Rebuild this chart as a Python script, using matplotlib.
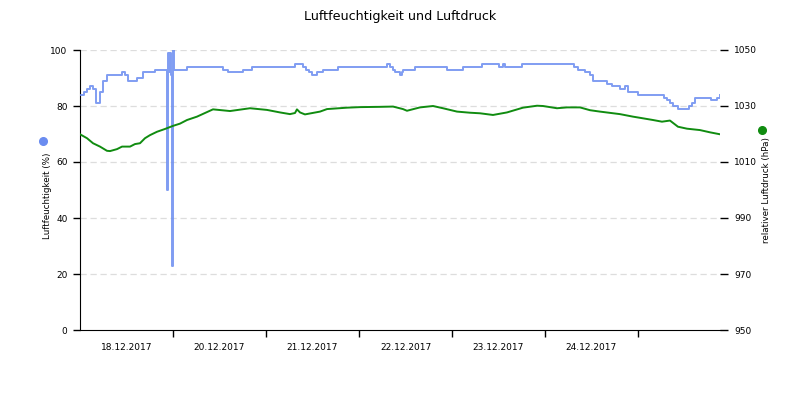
import numpy as np
import matplotlib.pyplot as plt

# time in days since start of record
hum_t = [0.000, 0.043, 0.075, 0.108, 0.140, 0.172, 0.215, 0.247, 0.290, 0.452,
         0.484, 0.516, 0.613, 0.677, 0.806, 0.935, 0.946, 0.962, 0.973, 0.982,
         0.991, 1.001, 1.011, 1.151, 1.538, 1.591, 1.753, 1.849, 2.312, 2.398,
         2.430, 2.462, 2.495, 2.548, 2.613, 2.774, 3.301, 3.333, 3.366, 3.387,
         3.441, 3.462, 3.473, 3.602, 3.946, 4.118, 4.323, 4.505, 4.548, 4.570,
         4.753, 5.312, 5.355, 5.430, 5.484, 5.516, 5.667, 5.720, 5.806, 5.860,
         5.892, 6.000, 6.280, 6.312, 6.344, 6.376, 6.430, 6.548, 6.581, 6.613,
         6.785, 6.849, 6.882]
hum_v = [84, 85, 86, 87, 86, 81, 85, 89, 91, 92,
         91, 89, 90, 92, 93, 50, 99, 92, 99, 91,
         23, 100, 93, 94, 93, 92, 93, 94, 95, 94,
         93, 92, 91, 92, 93, 94, 95, 94, 93, 92,
         91, 92, 93, 94, 93, 94, 95, 94, 95, 94,
         95, 94, 93, 92, 91, 89, 88, 87, 86, 87,
         85, 84, 83, 82, 81, 80, 79, 80, 81, 83,
         82, 83, 84]

pres_t = [0.000, 0.075, 0.140, 0.215, 0.290, 0.323, 0.398, 0.452, 0.538, 0.591,
          0.645, 0.699, 0.753, 0.828, 0.914, 1.000, 1.075, 1.151, 1.258, 1.430,
          1.613, 1.828, 2.011, 2.151, 2.258, 2.312, 2.333, 2.366, 2.419, 2.581,
          2.656, 2.871, 3.011, 3.226, 3.366, 3.473, 3.516, 3.656, 3.796, 3.903,
          4.054, 4.194, 4.301, 4.441, 4.591, 4.763, 4.914, 4.978, 5.129, 5.237,
          5.376, 5.484, 5.591, 5.806, 5.946, 6.054, 6.161, 6.258, 6.344, 6.430,
          6.527, 6.667, 6.774, 6.882]
pres_v = [1019.9, 1018.5, 1016.7, 1015.5, 1014.0, 1013.9, 1014.6, 1015.5, 1015.5, 1016.4,
          1016.7, 1018.5, 1019.6, 1020.8, 1021.8, 1022.9, 1023.7, 1025.0, 1026.2, 1028.8,
          1028.2, 1029.2, 1028.6, 1027.7, 1027.1, 1027.5, 1028.8, 1027.7, 1027.0, 1028.0,
          1028.9, 1029.4, 1029.6, 1029.7, 1029.8, 1028.9, 1028.3, 1029.5, 1030.0, 1029.2,
          1028.0, 1027.6, 1027.4, 1026.8, 1027.7, 1029.4, 1030.1, 1030.0, 1029.2, 1029.5,
          1029.5, 1028.5, 1028.0, 1027.1, 1026.2, 1025.6, 1025.0, 1024.4, 1024.8, 1022.6,
          1021.9, 1021.4, 1020.6, 1019.9]

day_labels = ['18.12.2017', '20.12.2017', '21.12.2017', '22.12.2017',
              '23.12.2017', '24.12.2017']

blue = '#6a8cf0'
green = '#108c10'

plt.rcParams['font.family'] = 'DejaVu Sans'
fig = plt.figure(figsize=(8, 4), dpi=100)
ax = fig.add_axes([0.1, 0.175, 0.8, 0.7])
ax2 = ax.twinx()

ax.plot(hum_t, hum_v, color=blue, lw=1.4, alpha=0.85, drawstyle='steps-post', zorder=3)
ax2.plot(pres_t, pres_v, color=green, lw=1.4, zorder=3)

ax.set_xlim(0, 6.882)
ax.set_ylim(0, 100)
ax2.set_ylim(950, 1050)
ax.set_yticks(range(0, 101, 20))
ax2.set_yticks(range(950, 1051, 20))

ax.set_xticks(range(1, 7))
ax.set_xticklabels([])
ax.set_xticks([k + 0.5 for k in range(6)], minor=True)
ax.set_xticklabels(day_labels, minor=True)
ax.tick_params(axis='x', which='major', length=5, width=1, direction='out')
ax.tick_params(axis='x', which='minor', length=0, pad=9, labelsize=6.5)
ax.tick_params(axis='y', length=5, width=1, pad=4, labelsize=6.5)
ax2.tick_params(axis='y', length=6, width=1, pad=4, labelsize=6.5)

for y in range(20, 101, 20):
    ax.axhline(y, color='#dddddd', lw=0.9, ls=(0, (5, 3)), zorder=1)

for s in ['top', 'right']:
    ax.spines[s].set_visible(False)
for s in ['top', 'right', 'left', 'bottom']:
    ax2.spines[s].set_visible(False)

ax.set_ylabel('Luftfeuchtigkeit (%)', fontsize=6.3, labelpad=2)
ax2.set_ylabel('relativer Luftdruck (hPa)', fontsize=6.3, labelpad=4)
ax.yaxis.set_label_coords(-0.044, 0.48)

fig.suptitle('Luftfeuchtigkeit und Luftdruck', fontsize=9.2, y=0.975)

# legend dots next to the axis titles
fig.lines.append(plt.Line2D([43 / 800], [1 - 141 / 400], marker='o', ms=5.5,
                            color=blue, ls='none', transform=fig.transFigure))
fig.lines.append(plt.Line2D([762 / 800], [1 - 130 / 400], marker='o', ms=5.5,
                            color=green, ls='none', transform=fig.transFigure))

fig.savefig('out.png', dpi=100)
